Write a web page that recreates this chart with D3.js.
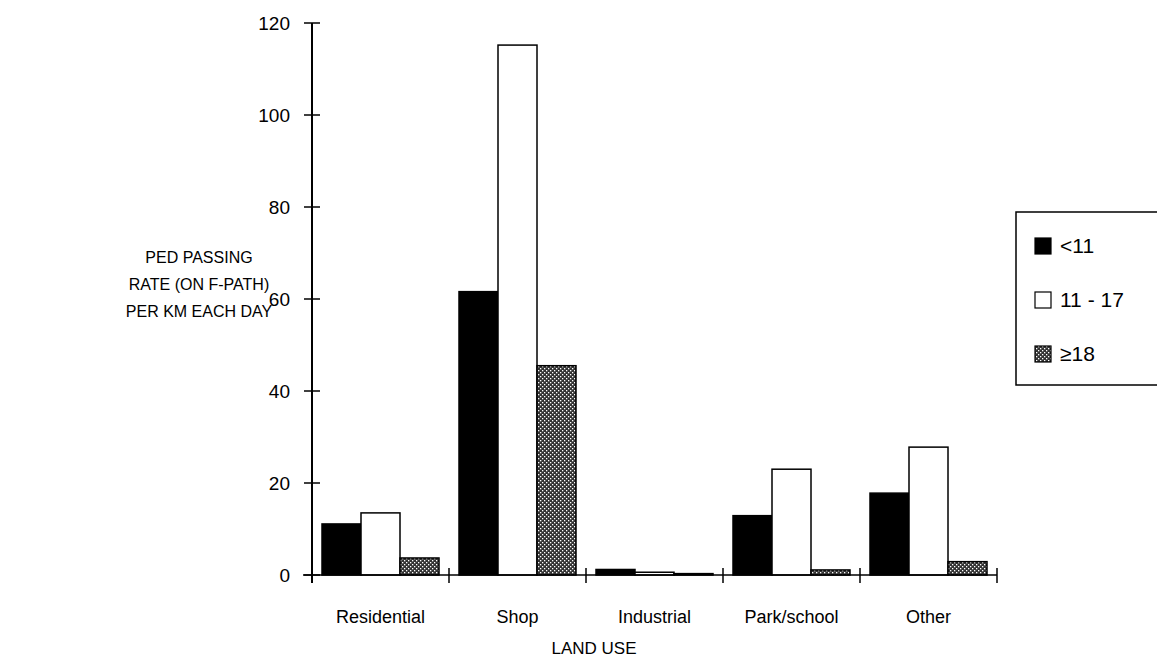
<!DOCTYPE html>
<html><head><meta charset="utf-8">
<script src="https://cdn.jsdelivr.net/npm/d3@7"></script>
<style>body{margin:0;background:#fff}text{font-family:Arial,"Liberation Sans",sans-serif;fill:#000}</style>
</head><body><svg id="c" width="1157" height="669"></svg>
<script>
const categories = ["Residential","Shop","Industrial","Park/school","Other"];
const seriesNames = ["<11","11 - 17","\u226518"];
const under11 = [11.1, 61.6, 1.2, 12.9, 17.8];
const age11to17 = [13.5, 115.2, 0.6, 23.0, 27.8];
const age18plus = [3.7, 45.5, 0.3, 1.1, 2.9];
const yTicks = [0,20,40,60,80,100,120];
const yTitle = ["PED PASSING","RATE (ON F-PATH)","PER KM EACH DAY"];
const xTitle = "LAND USE";

const series = [under11, age11to17, age18plus];
const fills = ["#000","#fff","url(#hatch)"];

const svg = d3.select("#c");
const defs = svg.append("defs");
const pat = defs.append("pattern").attr("id","hatch").attr("patternUnits","userSpaceOnUse").attr("width",4).attr("height",4);
pat.append("rect").attr("width",4).attr("height",4).attr("fill","#333");
pat.append("rect").attr("x",0).attr("y",0).attr("width",1.3).attr("height",1.3).attr("fill","#fff");
pat.append("rect").attr("x",2).attr("y",2).attr("width",1.3).attr("height",1.3).attr("fill","#fff");

const x = d3.scaleBand().domain(categories).range([312, 997]).padding(0);
const xs = d3.scaleBand().domain(d3.range(3)).range([10, x.bandwidth()-10]).padding(0);
const y = d3.scaleLinear().domain([0,120]).range([575, 23]);

// bars
categories.forEach((c,i)=>{
  series.forEach((s,j)=>{
    svg.append("rect")
      .attr("x", x(c)+xs(j)).attr("y", y(s[i]))
      .attr("width", xs.bandwidth()).attr("height", y(0)-y(s[i]))
      .attr("fill", fills[j]).attr("stroke","#000").attr("stroke-width",1.5);
  });
});

// y axis
const ax = 312;
svg.append("line").attr("x1",ax).attr("x2",ax).attr("y1",y(120)).attr("y2",583).attr("stroke","#000").attr("stroke-width",2);
svg.selectAll(".yt").data(yTicks).join("line").attr("x1",ax-8).attr("x2",ax+8)
  .attr("y1",d=>y(d)).attr("y2",d=>y(d)).attr("stroke","#000").attr("stroke-width",1.5);
svg.selectAll(".yl").data(yTicks).join("text").attr("x",290).attr("y",d=>y(d)).attr("dy","0.35em")
  .attr("text-anchor","end").style("font-size","19px").text(d=>d);

// x axis
svg.append("line").attr("x1",303).attr("x2",997).attr("y1",y(0)).attr("y2",y(0)).attr("stroke","#000").attr("stroke-width",1.5);
const bounds = categories.map(c=>x(c)+x.bandwidth());
svg.selectAll(".xt").data(bounds).join("line").attr("x1",d=>d).attr("x2",d=>d)
  .attr("y1",y(0)-7).attr("y2",y(0)+8).attr("stroke","#000").attr("stroke-width",1.5);
svg.selectAll(".xl").data(categories).join("text").attr("x",d=>x(d)+x.bandwidth()/2).attr("y",617)
  .attr("dy","0.35em").attr("text-anchor","middle").style("font-size","18px").text(d=>d);
svg.append("text").attr("x",594).attr("y",648).attr("dy","0.35em").attr("text-anchor","middle").style("font-size","17px").text(xTitle);

// y title
yTitle.forEach((t,i)=>{
  svg.append("text").attr("x",199).attr("y",257+i*27).attr("dy","0.35em").attr("text-anchor","middle").style("font-size","16px").text(t);
});

// legend
svg.append("rect").attr("x",1016).attr("y",212).attr("width",150).attr("height",173).attr("fill","#fff").attr("stroke","#000").attr("stroke-width",1.5);
seriesNames.forEach((n,j)=>{
  const cy = 246 + j*54;
  svg.append("rect").attr("x",1035).attr("y",cy-8).attr("width",16).attr("height",16).attr("fill",fills[j]).attr("stroke","#000").attr("stroke-width",1.2);
  svg.append("text").attr("x",1060).attr("y",cy).attr("dy","0.35em").style("font-size","21px").text(n);
});
</script></body></html>
